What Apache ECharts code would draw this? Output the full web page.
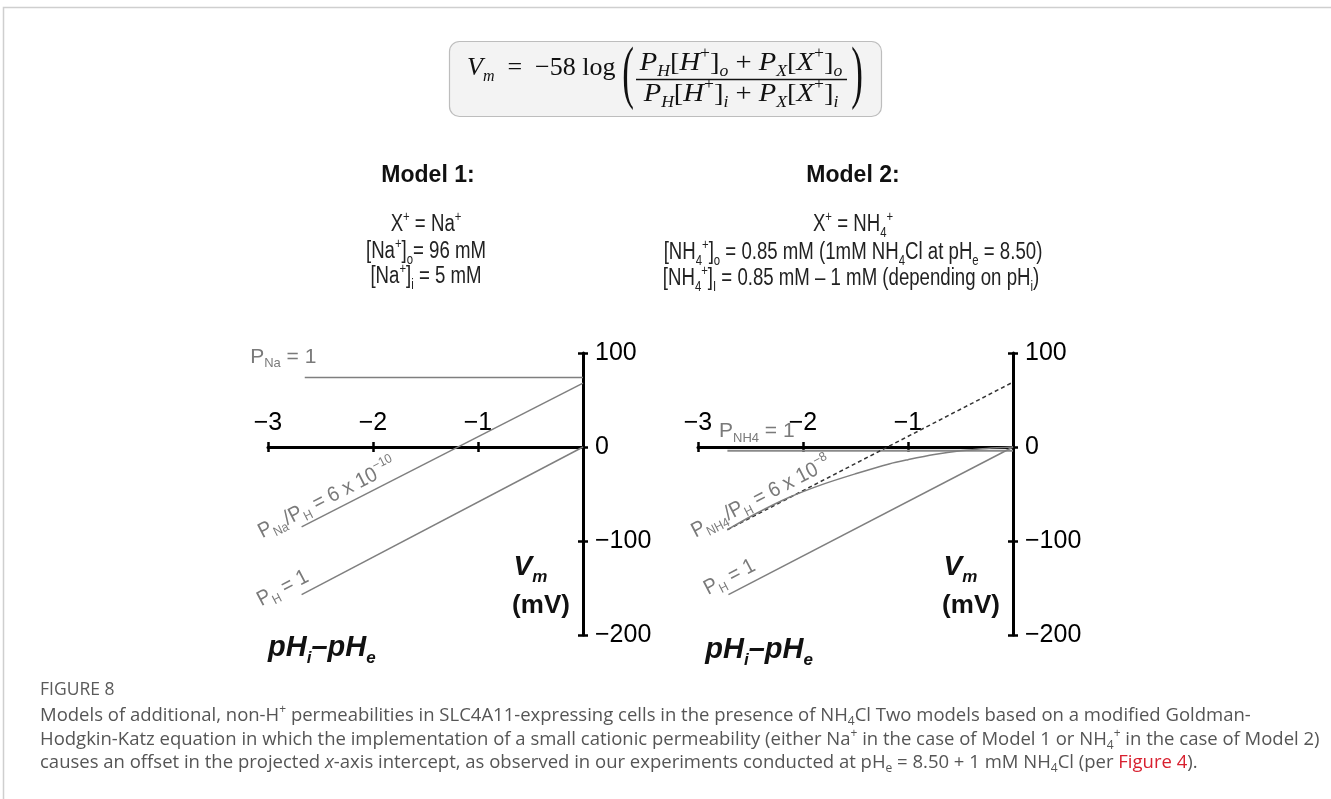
<!DOCTYPE html>
<html>
<head>
<meta charset="utf-8">
<title>Figure 8 – GHK models</title>
<script src="https://cdn.jsdelivr.net/npm/echarts@6/dist/echarts.min.js"></script>
<style>
  html, body { margin: 0; padding: 0; background: #ffffff; }
  #chart { width: 1331px; height: 799px; }
</style>
</head>
<body>
<div id="chart"></div>
<script>
// Axis ranges: x = pH_i − pH_e, y = membrane potential V_m (mV)
const X_MIN = -3, X_MAX = 0, X_STEP = 1;
const Y_MIN = -200, Y_MAX = 100, Y_STEP = 100;

// Model 1 (X+ = Na+)
const m1PNa1  = [[-2.65, 74], [0, 74]];
const m1Ratio = [[-2.68, -85], [0, 68]];
const m1PH1   = [[-2.68, -157], [0, 0]];

// Model 2 (X+ = NH4+)
const m2PNH41  = [[-2.72, -4], [0, -4]];
const m2Dashed = [[-2.72, -88], [0, 69]];
const m2Ratio  = [[-2.72, -88], [-2.45, -71], [-2.13, -53.5], [-1.82, -40], [-1.5, -28.5],
                  [-1.18, -18], [-1.0, -13.5], [-0.75, -8], [-0.5, -4], [-0.25, -1.5], [0, 0]];
const m2PH1    = [[-2.71, -157], [0, 0]];

const SANS  = '"Liberation Sans", Arial, Helvetica, sans-serif';
const SERIF = '"Liberation Serif", "Times New Roman", serif';
const CAPF  = '"Open Sans", "Noto Sans", sans-serif';

const minus = v => (v < 0 ? '\u2212' + (-v) : String(v));

const gridBoxes = [
  { left: 268, top: 353, width: 315, height: 282 },
  { left: 698, top: 353, width: 315, height: 282 }
];

// x axes sit on the V = 0 line: shift them down from the grid top by the share of the y range above zero
function xAxesFor(g) {
  const off = -gridBoxes[g].height * (Y_MAX - 0) / (Y_MAX - Y_MIN);
  const base = { gridIndex: g, type: 'value', min: X_MIN, max: X_MAX, interval: X_STEP,
                 position: 'top', offset: off, splitLine: { show: false } };
  const tick = { show: true, length: 5, lineStyle: { color: '#000', width: 2.5 } };
  return [
    Object.assign({}, base, {
      axisLine: { show: true, onZero: false, lineStyle: { color: '#000', width: 3 } },
      axisTick: tick,
      axisLabel: { margin: 11, color: '#000', fontSize: 25, fontFamily: SANS,
                   formatter: v => (v === 0 ? '' : minus(v)) }
    }),
    Object.assign({}, base, {
      axisLine: { show: false, onZero: false },
      axisTick: Object.assign({}, tick, { inside: true }),
      axisLabel: { show: false }
    })
  ];
}
function yAxesFor(g) {
  const base = { gridIndex: g, type: 'value', min: Y_MIN, max: Y_MAX, interval: Y_STEP,
                 position: 'right', splitLine: { show: false } };
  const tick = { show: true, length: 5, lineStyle: { color: '#000', width: 2.5 } };
  return [
    Object.assign({}, base, {
      axisLine: { show: true, onZero: false, lineStyle: { color: '#000', width: 3 } },
      axisTick: tick,
      axisLabel: { margin: 12, color: '#000', fontSize: 25, fontFamily: SANS, formatter: minus }
    }),
    Object.assign({}, base, {
      axisLine: { show: false, onZero: false },
      axisTick: Object.assign({}, tick, { inside: true }),
      axisLabel: { show: false }
    })
  ];
}

function lineSeries(data, g, extra) {
  return Object.assign({
    type: 'line', data: data, xAxisIndex: g * 2, yAxisIndex: g * 2,
    showSymbol: false, symbol: 'none', silent: true, z: 3,
    lineStyle: { color: '#7f7f7f', width: 1.5 }
  }, extra || {});
}

const chart = echarts.init(document.getElementById('chart'), null, { renderer: 'canvas' });
chart.setOption({
  backgroundColor: '#ffffff',
  animation: false,
  grid: gridBoxes.map(b => Object.assign({ containLabel: false, outerBoundsMode: 'none' }, b)),
  xAxis: xAxesFor(0).concat(xAxesFor(1)),
  yAxis: yAxesFor(0).concat(yAxesFor(1)),
  series: [
    lineSeries(m1PNa1, 0),
    lineSeries(m1Ratio, 0),
    lineSeries(m1PH1, 0),
    lineSeries(m2PNH41, 1, { lineStyle: { color: '#8a8a8a', width: 2 } }),
    lineSeries(m2Dashed, 1, { lineStyle: { color: '#333', width: 1.5, type: [4, 3] } }),
    lineSeries(m2Ratio, 1, { smooth: 0.3 }),
    lineSeries(m2PH1, 1)
  ]
});

// rich-text style sets: t = base, ti = italic base, s = subscript, si = italic subscript, p = superscript
function rs(size, family, color, o) {
  o = o || {};
  const lh = Math.round(size * 1.3);
  const sm = Math.round(size * (o.small || 0.62));
  const w = o.weight || 'normal';
  const st = o.style || 'normal';
  return {
    t:  { fontFamily: family, fill: color, fontWeight: w, fontStyle: st, fontSize: size, lineHeight: lh, verticalAlign: 'middle' },
    ti: { fontFamily: family, fill: color, fontWeight: w, fontStyle: 'italic', fontSize: size, lineHeight: lh, verticalAlign: 'middle' },
    s:  { fontFamily: family, fill: color, fontWeight: w, fontStyle: st, fontSize: sm, lineHeight: Math.round(size * 0.72), verticalAlign: 'bottom' },
    si: { fontFamily: family, fill: color, fontWeight: w, fontStyle: 'italic', fontSize: sm, lineHeight: Math.round(size * 0.72), verticalAlign: 'bottom' },
    p:  { fontFamily: family, fill: color, fontWeight: w, fontStyle: 'normal', fontSize: sm, lineHeight: Math.round(size * 0.5), verticalAlign: 'top' },
    red:{ fontFamily: family, fill: '#d8202f', fontWeight: w, fontStyle: st, fontSize: size, lineHeight: lh, verticalAlign: 'middle' }
  };
}
function txt(x, y, text, rich, o) {
  o = o || {};
  return {
    type: 'text', x: x, y: y, rotation: o.rot || 0, scaleX: o.sx || 1, scaleY: o.sy || 1,
    silent: true, z: 20,
    style: { text: text, rich: rich, align: o.align || 'left', verticalAlign: o.va || 'middle' }
  };
}

const px = (g, p) => chart.convertToPixel({ gridIndex: g }, p);
function slopeAngle(g, pts) {
  const a = px(g, pts[0]), b = px(g, pts[pts.length - 1]);
  return Math.atan2(a[1] - b[1], b[0] - a[0]);
}

// curve labels, anchored in data space
const curveLabels = [
  { g: 0, text: '{t|P}{s|Na}{t| = 1}', at: [-3.17, 96], along: null },
  { g: 0, text: '{t|P}{s|Na}{t|/P}{s|H}{t| = 6 x 10}{p|\u221210}', at: [-3.08, -91.5], along: m1Ratio },
  { g: 0, text: '{t|P}{s|H}{t| = 1}', at: [-3.09, -164], along: m1PH1 },
  { g: 1, text: '{t|P}{s|NH4}{t| = 1}', at: [-2.80, 16.5], along: null },
  { g: 1, text: '{t|P}{s|NH4}{t|/P}{s|H}{t| = 6 x 10}{p|\u22128}', at: [-3.05, -91], along: m2Dashed },
  { g: 1, text: '{t|P}{s|H}{t| = 1}', at: [-2.93, -152], along: m2PH1 }
];

const eqRich   = rs(26, SERIF, '#111', { small: 0.62 });
const headRich = rs(23, SANS, '#111', { weight: 'bold' });
const bodyRich = rs(23, SANS, '#222', { small: 0.6 });
const lblRich  = rs(21, SANS, '#7a7a7a', { small: 0.6 });
const vmRich   = rs(28, SANS, '#111', { weight: 'bold', style: 'italic', small: 0.62 });
const mvRich   = rs(26, SANS, '#111', { weight: 'bold' });
const phRich   = rs(29, SANS, '#111', { weight: 'bold', style: 'italic', small: 0.6 });
const capRich  = rs(18.5, CAPF, '#555555', { small: 0.64 });
const figRich  = rs(17.5, CAPF, '#5a5a5a');
const parenRich = { t: { fontFamily: SERIF, fontSize: 70, fill: '#111' } };

const gfx = [];
// outer frame
gfx.push({ type: 'rect', silent: true, z: 1, shape: { x: 3.5, y: 7.5, width: 1360, height: 840 },
           style: { fill: 'none', stroke: '#cfcfcf', lineWidth: 1.5 } });
// equation box
gfx.push({ type: 'rect', silent: true, z: 2, shape: { x: 449.5, y: 41.5, width: 432, height: 75, r: 10 },
           style: { fill: '#f3f3f3', stroke: '#bdbdbd', lineWidth: 1.2 } });
gfx.push(txt(467, 68, '{ti|V}{si|m}{t|  =  \u221258 log}', eqRich));
gfx.push(txt(628, 77, '{t|(}', parenRich, { align: 'center', sx: 0.5 }));
gfx.push(txt(857, 77, '{t|)}', parenRich, { align: 'center', sx: 0.5 }));
gfx.push(txt(741, 63, '{ti|P}{si|H}{t|[}{ti|H}{p|+}{t|]}{si|o}{t| + }{ti|P}{si|X}{t|[}{ti|X}{p|+}{t|]}{si|o}', eqRich, { align: 'center', sx: 1.1 }));
gfx.push({ type: 'line', silent: true, z: 20, shape: { x1: 636, y1: 79.5, x2: 847, y2: 79.5 },
           style: { stroke: '#111', lineWidth: 1.3 } });
gfx.push(txt(741, 94, '{ti|P}{si|H}{t|[}{ti|H}{p|+}{t|]}{si|i}{t| + }{ti|P}{si|X}{t|[}{ti|X}{p|+}{t|]}{si|i}', eqRich, { align: 'center', sx: 1.1 }));

// model headings and parameter lines
gfx.push(txt(428, 176, '{t|Model 1:}', headRich, { align: 'center' }));
gfx.push(txt(853, 176, '{t|Model 2:}', headRich, { align: 'center' }));
const NARROW = 0.81;
gfx.push(txt(426, 225, '{t|X}{p|+}{t| = Na}{p|+}', bodyRich, { align: 'center', sx: NARROW }));
gfx.push(txt(426, 252, '{t|[Na}{p|+}{t|]}{s|o}{t|= 96 mM}', bodyRich, { align: 'center', sx: NARROW }));
gfx.push(txt(426, 277, '{t|[Na}{p|+}{t|]}{s|i}{t| = 5 mM}', bodyRich, { align: 'center', sx: NARROW }));
gfx.push(txt(853, 225, '{t|X}{p|+}{t| = NH}{s|4}{p|+}', bodyRich, { align: 'center', sx: NARROW }));
gfx.push(txt(853, 253, '{t|[NH}{s|4}{p|+}{t|]}{s|o}{t| = 0.85 mM (1mM NH}{s|4}{t|Cl at pH}{s|e}{t| = 8.50)}', bodyRich, { align: 'center', sx: NARROW }));
gfx.push(txt(851, 279, '{t|[NH}{s|4}{p|+}{t|]}{s|I}{t| = 0.85 mM \u2013 1 mM (depending on pH}{s|i}{t|)}', bodyRich, { align: 'center', sx: NARROW }));

// curve labels
curveLabels.forEach(l => {
  const p = px(l.g, l.at);
  const rot = l.along ? slopeAngle(l.g, l.along) : 0;
  gfx.push(txt(p[0], p[1], l.text, lblRich, { rot: rot, sx: l.along ? 0.93 : 1 }));
});

// axis titles
[0, 1].forEach(g => {
  const v = px(g, [-0.5, -128]);
  const m = px(g, [-0.40, -169]);
  const h = px(g, g === 0 ? [-3.0, -214] : [-2.93, -216]);
  gfx.push(txt(v[0], v[1], '{t|V}{s|m}', vmRich, { align: 'center' }));
  gfx.push(txt(m[0], m[1], '{t|(mV)}', mvRich, { align: 'center' }));
  gfx.push(txt(h[0], h[1], '{t|pH}{s|i}{t|\u2013pH}{s|e}', phRich));
});

// figure caption
gfx.push(txt(40, 690, '{t|FIGURE 8}', figRich));
gfx.push(txt(40, 716, '{t|Models of additional, non-H}{p|+}{t| permeabilities in SLC4A11-expressing cells in the presence of NH}{s|4}{t|Cl Two models based on a modified Goldman-}', capRich));
gfx.push(txt(40, 740, '{t|Hodgkin-Katz equation in which the implementation of a small cationic permeability (either Na}{p|+}{t| in the case of Model 1 or NH}{s|4}{p|+}{t| in the case of Model 2)}', capRich));
gfx.push(txt(40, 763, '{t|causes an offset in the projected }{ti|x}{t|-axis intercept, as observed in our experiments conducted at pH}{s|e}{t| = 8.50 + 1 mM NH}{s|4}{t|Cl (per }{red|Figure 4}{t|).}', capRich));

chart.setOption({ graphic: { elements: gfx } });
</script>
</body>
</html>
